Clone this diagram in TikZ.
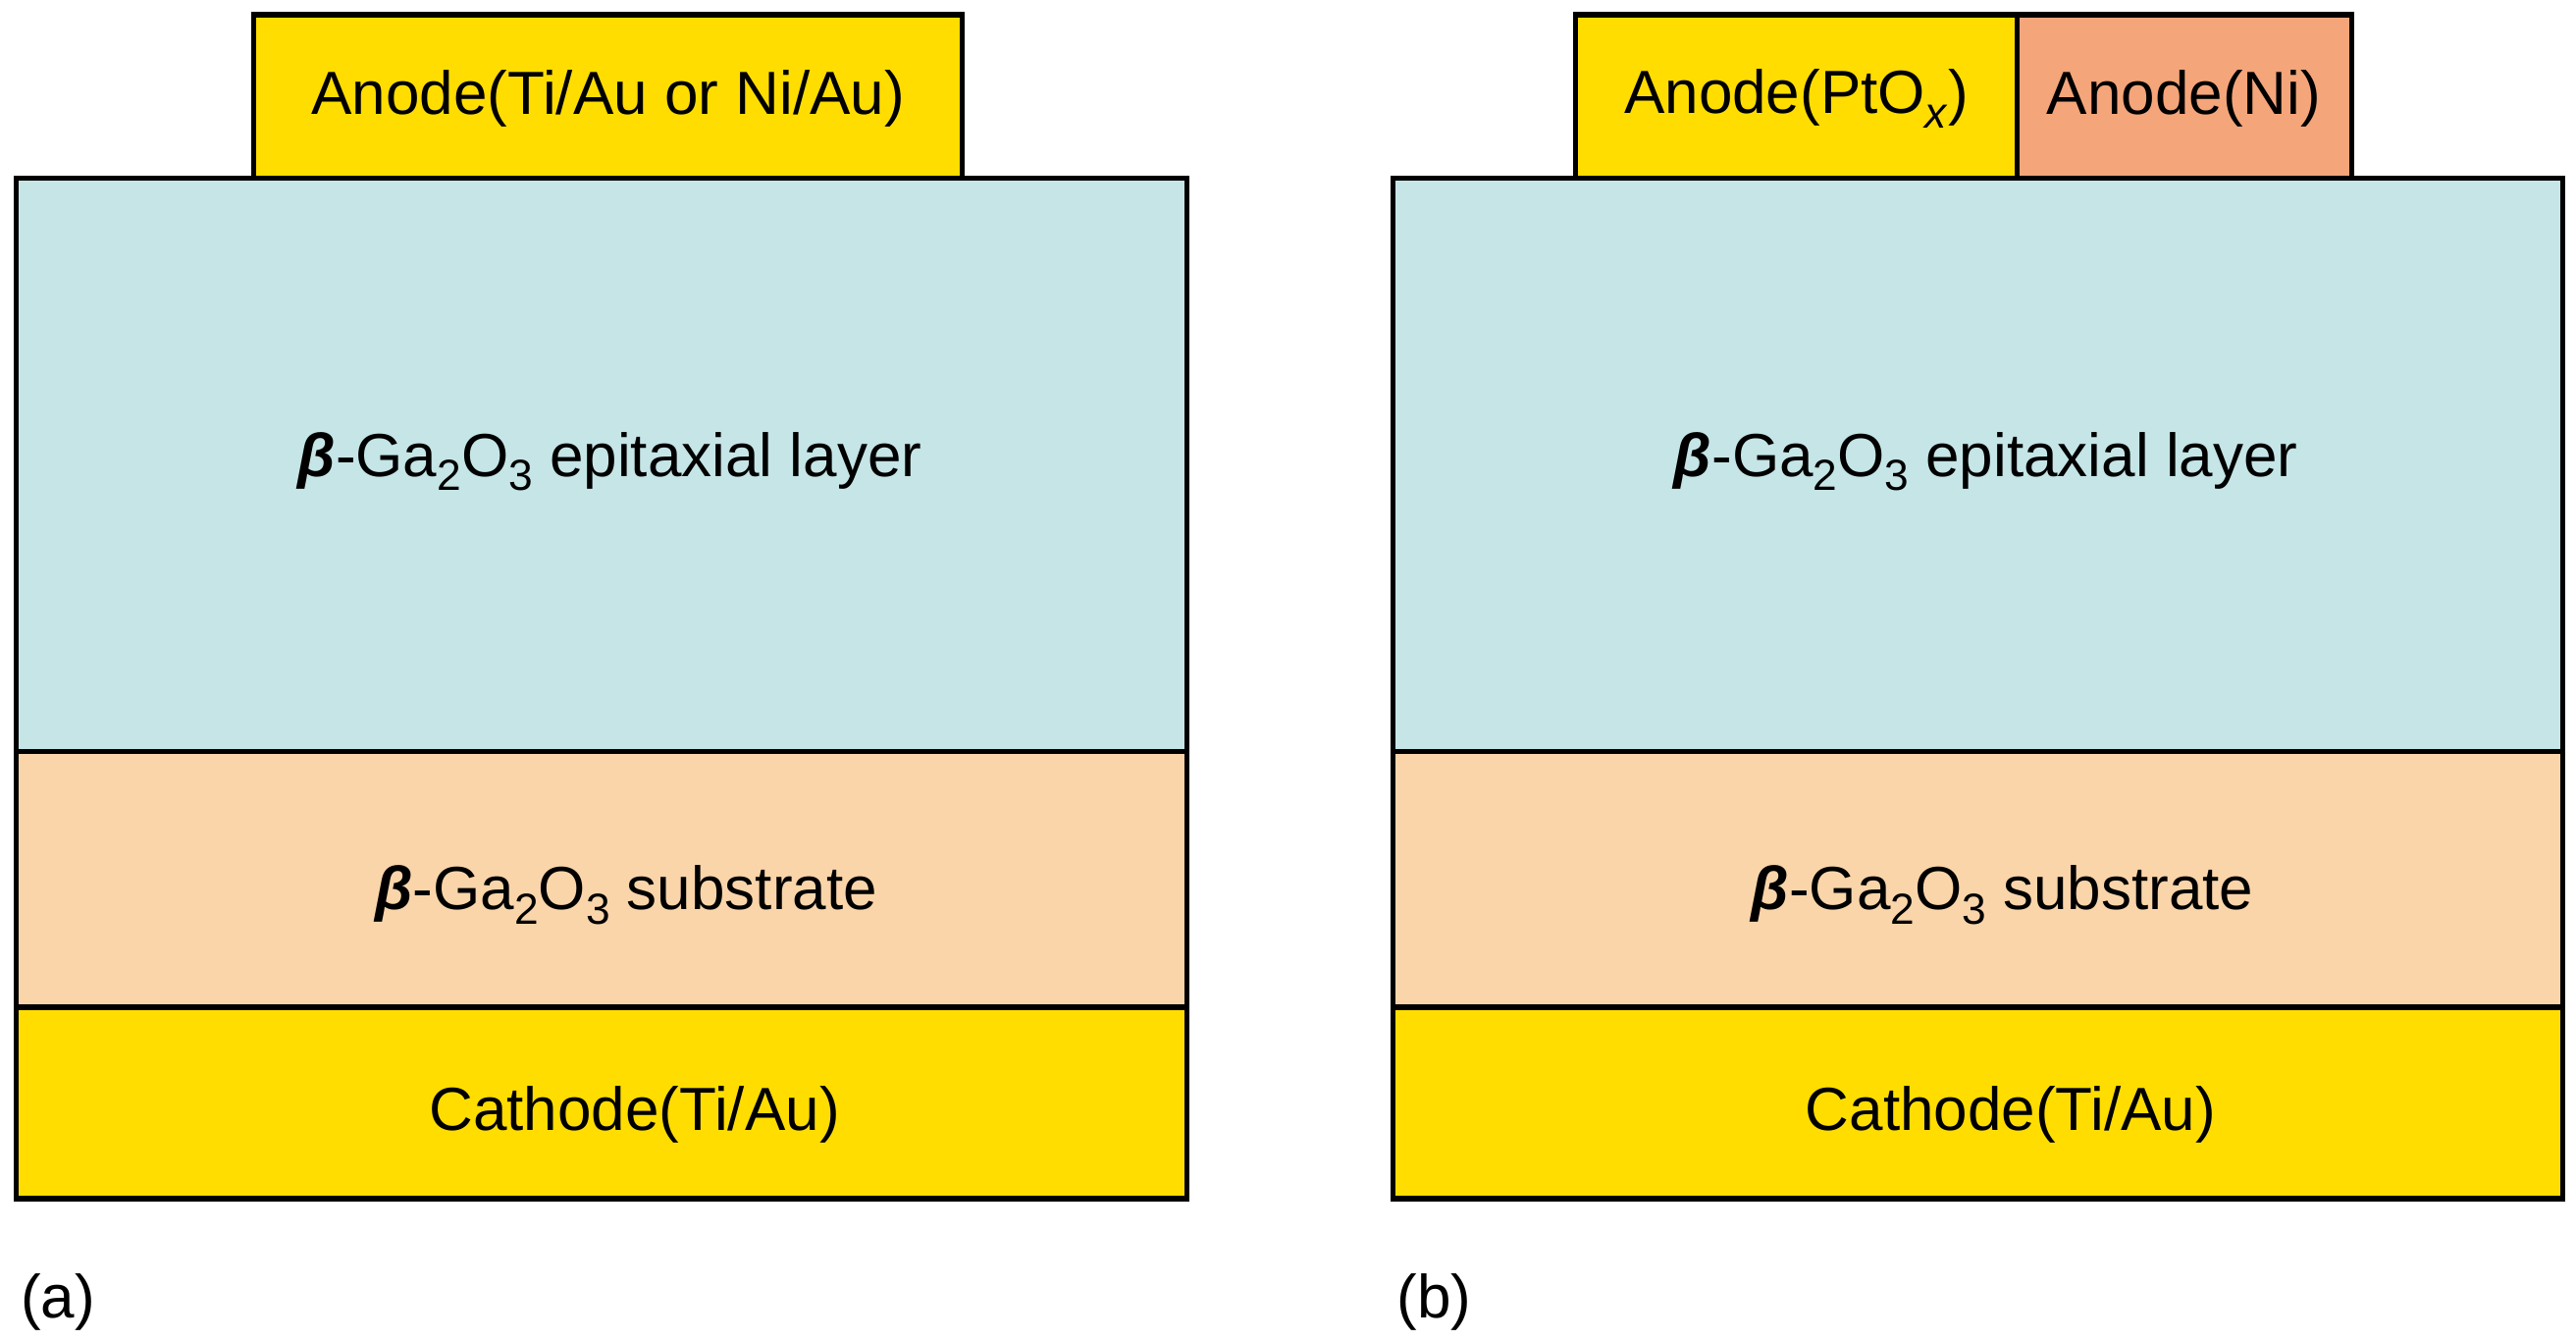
\documentclass[tikz,border=0pt]{standalone}
\usepackage{fontspec}
\setmainfont{Liberation Sans}
\definecolor{au}{HTML}{FFDD00}
\definecolor{epi}{HTML}{C5E5E7}
\definecolor{sub}{HTML}{FAD5AA}
\definecolor{ni}{HTML}{F4A57A}
\newcommand{\bet}{\textbf{\textit{β}}}
\newcommand{\sbs}[1]{\raisebox{-0.45ex}{\fontsize{7.5}{8}\selectfont #1}}
\begin{document}
\begin{tikzpicture}[x=0.01cm,y=-0.01cm,
  lay/.style={draw=black,line width=0.9pt},
  lab/.style={font=\fontsize{10.5}{12}\selectfont,inner sep=0}]
\useasboundingbox (0,0) rectangle (1563,813);
\foreach \o/\n in {0/a,835/b}{
  \draw[lay,fill=epi] (10+\o,108) rectangle (720+\o,456);
  \draw[lay,fill=sub] (10+\o,456) rectangle (720+\o,611);
  \draw[lay,fill=au] (10+\o,611) rectangle (720+\o,727);
  \node[lab] (epi\n) at (370+\o,280) {\bet-Ga\sbs{2}O\sbs{3} epitaxial layer};
  \node[lab] (sub\n) at (380+\o,543) {\bet-Ga\sbs{2}O\sbs{3} substrate};
  \node[lab] (cat\n) at (385+\o,676) {Cathode(Ti/Au)};
  \node[lab,anchor=west] (lbl\n) at (12+\o,790) {(\n)};
}
\draw[lay,fill=au] (154,9) rectangle (584,108);
\node[lab] (anA) at (369,60) {Anode(Ti/Au or Ni/Au)};
\draw[lay,fill=au] (956,9) rectangle (1224,108);
\draw[lay,fill=ni] (1224,9) rectangle (1427,108);
\node[lab] (anB) at (1090,60) {Anode(PtO\sbs{\textit{x}})};
\node[lab] (anC) at (1325,60) {Anode(Ni)};
\end{tikzpicture}
\end{document}
